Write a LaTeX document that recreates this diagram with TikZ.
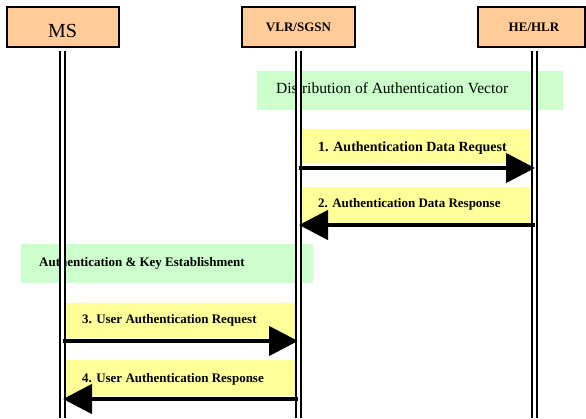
\documentclass[tikz,border=0pt]{standalone}
\usepackage{fontspec}
\setmainfont{Liberation Serif}
\usetikzlibrary{arrows.meta}
\definecolor{peach}{HTML}{FFCC99}
\definecolor{lgreen}{HTML}{CCFFCC}
\definecolor{lyellow}{HTML}{FFFF99}
\tikzset{
  actor/.style={draw=black, line width=1.5pt, fill=peach, minimum width=112pt, minimum height=40pt, inner sep=0pt},
  lifeline/.style={draw=black, double=white, line width=1.6pt, double distance=3.4pt},
  phase/.style={fill=lgreen, draw=none},
  msgband/.style={fill=lyellow, draw=none},
  msg/.style={line width=4.5pt, -{Triangle[length=29pt,width=29pt]}},
  msgtext/.style={anchor=base west, inner sep=0pt, font=\fontsize{13}{15}\selectfont\bfseries},
  actortext/.style={anchor=base, inner sep=0pt}
}
\begin{document}
\begin{tikzpicture}[x=1pt,y=-1pt]
\useasboundingbox (0,0) rectangle (586,418);
% actors
\node[actor, minimum width=112pt] (ms) at (63,27) {};
\node[actor, minimum width=113pt] (vlr) at (298.5,27) {};
\node[actor, minimum width=107pt] (hlr) at (531.5,27) {};
\node[actortext, font=\fontsize{20}{22}\selectfont] (mst) at (62.5,37) {MS};
\node[actortext, font=\fontsize{13}{15}\selectfont\bfseries] (vlrt) at (298.5,31.7) {VLR/SGSN};
\node[actortext, font=\fontsize{13}{15}\selectfont\bfseries] (hlrt) at (534,31.7) {HE/HLR};
% phase bands
\path[phase] (257,71) rectangle (563,110);
\node[anchor=base west, inner sep=0pt, font=\fontsize{15.5}{18}\selectfont] (ph1) at (276,93) {Distribution of Authentication Vector};
\path[phase] (21,244) rectangle (313,283);
\node[anchor=base west, inner sep=0pt, font=\fontsize{13}{15}\selectfont\bfseries] (ph2) at (39,266) {Authentication \& Key Establishment};
% message bands
\path[msgband] (299,129) rectangle (535,163);
\path[msgband] (299,187) rectangle (535,223);
\path[msgband] (62,303) rectangle (298,338);
\path[msgband] (62,360) rectangle (298,396);
\node[msgtext, font=\fontsize{14}{16}\selectfont\bfseries] (t1) at (318,151) {1. Authentication Data Request};
\node[msgtext] (t2) at (318,207) {2. Authentication Data Response};
\node[msgtext] (t3) at (82,323) {3. User Authentication Request};
\node[msgtext] (t4) at (82,382) {4. User Authentication Response};
% lifelines
\coordinate (msb) at (62.5,418);
\coordinate (vlrb) at (298.5,418);
\coordinate (hlrb) at (534.5,418);
\draw[lifeline] (62.5,51) -- (msb);
\draw[lifeline] (298.5,51) -- (vlrb);
\draw[lifeline] (534.5,51) -- (hlrb);
% message anchors
\coordinate (v1) at (299,168); \coordinate (h1) at (535,168);
\coordinate (h2) at (535,225); \coordinate (v2) at (299,225);
\coordinate (m3) at (63,341);  \coordinate (v3) at (298,341);
\coordinate (v4) at (298,399); \coordinate (m4) at (63,399);
\draw[msg] (v1) -- (h1);
\draw[msg] (h2) -- (v2);
\draw[msg] (m3) -- (v3);
\draw[msg] (v4) -- (m4);
\end{tikzpicture}
\end{document}
